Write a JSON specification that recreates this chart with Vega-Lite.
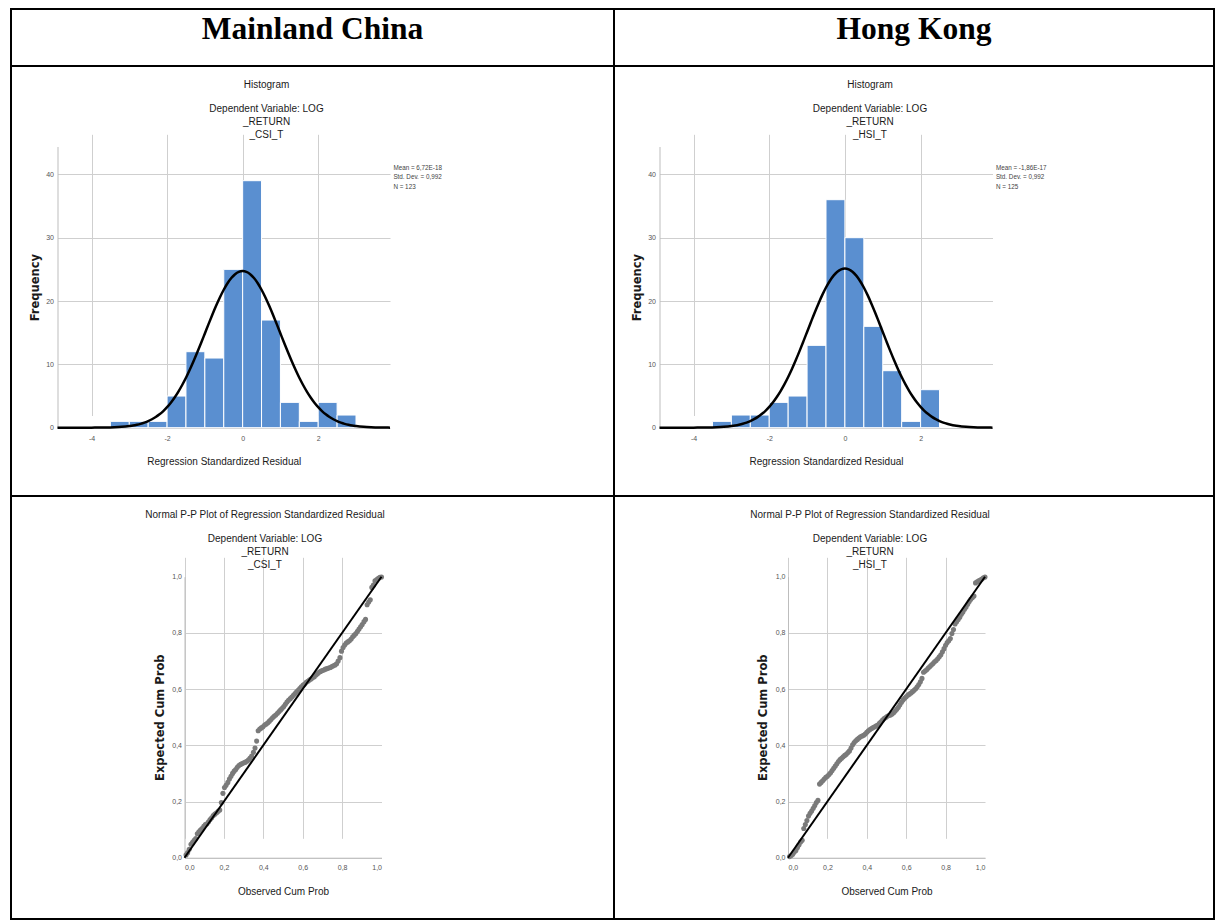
{
  "$schema": "https://vega.github.io/schema/vega-lite/v6.json",
  "background": "white",
  "padding": {"left": 10, "top": 8, "right": 0, "bottom": 0},
  "columns": 2,
  "spacing": 0,
  "bounds": "flush",
  "align": "each",
  "config": {
    "view": {"stroke": "black", "strokeWidth": 2},
    "font": "Liberation Sans, Arial, sans-serif"
  },
  "datasets": {
    "hist": [
      {"lo": -3.5, "hi": -3.0, "csi": 1, "hsi": 1},
      {"lo": -3.0, "hi": -2.5, "csi": 1, "hsi": 2},
      {"lo": -2.5, "hi": -2.0, "csi": 1, "hsi": 2},
      {"lo": -2.0, "hi": -1.5, "csi": 5, "hsi": 4},
      {"lo": -1.5, "hi": -1.0, "csi": 12, "hsi": 5},
      {"lo": -1.0, "hi": -0.5, "csi": 11, "hsi": 13},
      {"lo": -0.5, "hi": 0.0, "csi": 25, "hsi": 36},
      {"lo": 0.0, "hi": 0.5, "csi": 39, "hsi": 30},
      {"lo": 0.5, "hi": 1.0, "csi": 17, "hsi": 16},
      {"lo": 1.0, "hi": 1.5, "csi": 4, "hsi": 9},
      {"lo": 1.5, "hi": 2.0, "csi": 1, "hsi": 1},
      {"lo": 2.0, "hi": 2.5, "csi": 4, "hsi": 6},
      {"lo": 2.5, "hi": 3.0, "csi": 2, "hsi": 0}
    ],
    "curve": [
      {"z": -4.9, "csi": 0, "hsi": 0},
      {"z": -4.5, "csi": 0, "hsi": 0},
      {"z": -4.2, "csi": 0, "hsi": 0},
      {"z": -4.0, "csi": 0.01, "hsi": 0.01},
      {"z": -3.8, "csi": 0.02, "hsi": 0.02},
      {"z": -3.6, "csi": 0.03, "hsi": 0.03},
      {"z": -3.4, "csi": 0.07, "hsi": 0.07},
      {"z": -3.2, "csi": 0.14, "hsi": 0.14},
      {"z": -3.0, "csi": 0.26, "hsi": 0.26},
      {"z": -2.9, "csi": 0.34, "hsi": 0.35},
      {"z": -2.8, "csi": 0.46, "hsi": 0.47},
      {"z": -2.7, "csi": 0.61, "hsi": 0.62},
      {"z": -2.6, "csi": 0.80, "hsi": 0.81},
      {"z": -2.5, "csi": 1.03, "hsi": 1.05},
      {"z": -2.4, "csi": 1.33, "hsi": 1.35},
      {"z": -2.3, "csi": 1.68, "hsi": 1.71},
      {"z": -2.2, "csi": 2.11, "hsi": 2.15},
      {"z": -2.1, "csi": 2.63, "hsi": 2.67},
      {"z": -2.0, "csi": 3.24, "hsi": 3.29},
      {"z": -1.9, "csi": 3.95, "hsi": 4.01},
      {"z": -1.8, "csi": 4.77, "hsi": 4.85},
      {"z": -1.7, "csi": 5.70, "hsi": 5.79},
      {"z": -1.6, "csi": 6.74, "hsi": 6.84},
      {"z": -1.5, "csi": 7.88, "hsi": 8.01},
      {"z": -1.4, "csi": 9.14, "hsi": 9.28},
      {"z": -1.3, "csi": 10.48, "hsi": 10.65},
      {"z": -1.2, "csi": 11.90, "hsi": 12.09},
      {"z": -1.1, "csi": 13.37, "hsi": 13.59},
      {"z": -1.0, "csi": 14.88, "hsi": 15.12},
      {"z": -0.9, "csi": 16.39, "hsi": 16.65},
      {"z": -0.8, "csi": 17.87, "hsi": 18.16},
      {"z": -0.7, "csi": 19.28, "hsi": 19.59},
      {"z": -0.6, "csi": 20.60, "hsi": 20.93},
      {"z": -0.5, "csi": 21.78, "hsi": 22.14},
      {"z": -0.4, "csi": 22.80, "hsi": 23.17},
      {"z": -0.3, "csi": 23.63, "hsi": 24.01},
      {"z": -0.2, "csi": 24.24, "hsi": 24.63},
      {"z": -0.1, "csi": 24.61, "hsi": 25.01},
      {"z": 0.0, "csi": 24.73, "hsi": 25.14},
      {"z": 0.1, "csi": 24.61, "hsi": 25.01},
      {"z": 0.2, "csi": 24.24, "hsi": 24.63},
      {"z": 0.3, "csi": 23.63, "hsi": 24.01},
      {"z": 0.4, "csi": 22.80, "hsi": 23.17},
      {"z": 0.5, "csi": 21.78, "hsi": 22.14},
      {"z": 0.6, "csi": 20.60, "hsi": 20.93},
      {"z": 0.7, "csi": 19.28, "hsi": 19.59},
      {"z": 0.8, "csi": 17.87, "hsi": 18.16},
      {"z": 0.9, "csi": 16.39, "hsi": 16.65},
      {"z": 1.0, "csi": 14.88, "hsi": 15.12},
      {"z": 1.1, "csi": 13.37, "hsi": 13.59},
      {"z": 1.2, "csi": 11.90, "hsi": 12.09},
      {"z": 1.3, "csi": 10.48, "hsi": 10.65},
      {"z": 1.4, "csi": 9.14, "hsi": 9.28},
      {"z": 1.5, "csi": 7.88, "hsi": 8.01},
      {"z": 1.6, "csi": 6.74, "hsi": 6.84},
      {"z": 1.7, "csi": 5.70, "hsi": 5.79},
      {"z": 1.8, "csi": 4.77, "hsi": 4.85},
      {"z": 1.9, "csi": 3.95, "hsi": 4.01},
      {"z": 2.0, "csi": 3.24, "hsi": 3.29},
      {"z": 2.1, "csi": 2.63, "hsi": 2.67},
      {"z": 2.2, "csi": 2.11, "hsi": 2.15},
      {"z": 2.3, "csi": 1.68, "hsi": 1.71},
      {"z": 2.4, "csi": 1.33, "hsi": 1.35},
      {"z": 2.5, "csi": 1.03, "hsi": 1.05},
      {"z": 2.6, "csi": 0.80, "hsi": 0.81},
      {"z": 2.7, "csi": 0.61, "hsi": 0.62},
      {"z": 2.8, "csi": 0.46, "hsi": 0.47},
      {"z": 2.9, "csi": 0.34, "hsi": 0.35},
      {"z": 3.0, "csi": 0.26, "hsi": 0.26},
      {"z": 3.2, "csi": 0.14, "hsi": 0.14},
      {"z": 3.4, "csi": 0.07, "hsi": 0.07},
      {"z": 3.6, "csi": 0.03, "hsi": 0.03},
      {"z": 3.8, "csi": 0.02, "hsi": 0.02},
      {"z": 3.9, "csi": 0.01, "hsi": 0.01}
    ],
    "ppCSI": [
      {"o":0.008,"e":0.010},{"o":0.016,"e":0.018},{"o":0.024,"e":0.030},{"o":0.033,"e":0.048},{"o":0.041,"e":0.055},
      {"o":0.049,"e":0.062},{"o":0.057,"e":0.068},{"o":0.065,"e":0.085},{"o":0.073,"e":0.092},{"o":0.081,"e":0.098},
      {"o":0.089,"e":0.104},{"o":0.098,"e":0.112},{"o":0.106,"e":0.118},{"o":0.114,"e":0.121},{"o":0.122,"e":0.128},
      {"o":0.130,"e":0.136},{"o":0.138,"e":0.142},{"o":0.146,"e":0.150},{"o":0.154,"e":0.155},{"o":0.163,"e":0.160},
      {"o":0.171,"e":0.165},{"o":0.179,"e":0.170},{"o":0.187,"e":0.196},{"o":0.195,"e":0.229},{"o":0.203,"e":0.250},
      {"o":0.211,"e":0.258},{"o":0.220,"e":0.268},{"o":0.228,"e":0.280},{"o":0.236,"e":0.290},{"o":0.244,"e":0.300},
      {"o":0.252,"e":0.308},{"o":0.260,"e":0.314},{"o":0.268,"e":0.322},{"o":0.276,"e":0.328},{"o":0.285,"e":0.332},
      {"o":0.293,"e":0.335},{"o":0.301,"e":0.338},{"o":0.309,"e":0.340},{"o":0.317,"e":0.343},{"o":0.325,"e":0.348},
      {"o":0.333,"e":0.355},{"o":0.341,"e":0.362},{"o":0.350,"e":0.375},{"o":0.358,"e":0.390},{"o":0.366,"e":0.415},
      {"o":0.374,"e":0.452},{"o":0.382,"e":0.458},{"o":0.390,"e":0.462},{"o":0.398,"e":0.466},{"o":0.407,"e":0.472},
      {"o":0.415,"e":0.476},{"o":0.423,"e":0.480},{"o":0.431,"e":0.486},{"o":0.439,"e":0.492},{"o":0.447,"e":0.498},
      {"o":0.455,"e":0.503},{"o":0.463,"e":0.508},{"o":0.472,"e":0.514},{"o":0.480,"e":0.520},{"o":0.488,"e":0.526},
      {"o":0.496,"e":0.532},{"o":0.504,"e":0.538},{"o":0.512,"e":0.546},{"o":0.520,"e":0.554},{"o":0.528,"e":0.560},
      {"o":0.537,"e":0.566},{"o":0.545,"e":0.572},{"o":0.553,"e":0.578},{"o":0.561,"e":0.584},{"o":0.569,"e":0.590},
      {"o":0.577,"e":0.596},{"o":0.585,"e":0.602},{"o":0.593,"e":0.608},{"o":0.602,"e":0.614},{"o":0.610,"e":0.618},
      {"o":0.618,"e":0.624},{"o":0.626,"e":0.628},{"o":0.634,"e":0.632},{"o":0.642,"e":0.636},{"o":0.650,"e":0.640},
      {"o":0.659,"e":0.644},{"o":0.667,"e":0.650},{"o":0.675,"e":0.655},{"o":0.683,"e":0.660},{"o":0.691,"e":0.663},
      {"o":0.699,"e":0.666},{"o":0.707,"e":0.668},{"o":0.715,"e":0.671},{"o":0.724,"e":0.673},{"o":0.732,"e":0.675},
      {"o":0.740,"e":0.677},{"o":0.748,"e":0.680},{"o":0.756,"e":0.683},{"o":0.764,"e":0.686},{"o":0.772,"e":0.690},
      {"o":0.780,"e":0.700},{"o":0.789,"e":0.712},{"o":0.797,"e":0.735},{"o":0.805,"e":0.748},{"o":0.813,"e":0.757},
      {"o":0.821,"e":0.764},{"o":0.829,"e":0.768},{"o":0.837,"e":0.772},{"o":0.846,"e":0.778},{"o":0.854,"e":0.786},
      {"o":0.862,"e":0.792},{"o":0.870,"e":0.798},{"o":0.878,"e":0.806},{"o":0.886,"e":0.814},{"o":0.894,"e":0.822},
      {"o":0.902,"e":0.830},{"o":0.911,"e":0.840},{"o":0.919,"e":0.848},{"o":0.927,"e":0.900},{"o":0.935,"e":0.910},
      {"o":0.943,"e":0.918},{"o":0.951,"e":0.962},{"o":0.959,"e":0.970},{"o":0.967,"e":0.985},{"o":0.976,"e":0.990},
      {"o":0.984,"e":0.994},{"o":0.992,"e":0.998},{"o":1.000,"e":0.999}
    ],
    "ppHSI": [
      {"o":0.008,"e":0.004},{"o":0.016,"e":0.008},{"o":0.024,"e":0.012},{"o":0.032,"e":0.020},{"o":0.040,"e":0.026},
      {"o":0.048,"e":0.036},{"o":0.056,"e":0.046},{"o":0.064,"e":0.056},{"o":0.072,"e":0.062},{"o":0.080,"e":0.104},
      {"o":0.088,"e":0.118},{"o":0.096,"e":0.132},{"o":0.104,"e":0.148},{"o":0.112,"e":0.158},{"o":0.120,"e":0.166},
      {"o":0.128,"e":0.176},{"o":0.136,"e":0.186},{"o":0.144,"e":0.196},{"o":0.152,"e":0.204},{"o":0.160,"e":0.262},
      {"o":0.168,"e":0.268},{"o":0.176,"e":0.274},{"o":0.184,"e":0.280},{"o":0.192,"e":0.286},{"o":0.200,"e":0.290},
      {"o":0.208,"e":0.296},{"o":0.216,"e":0.302},{"o":0.224,"e":0.310},{"o":0.232,"e":0.318},{"o":0.240,"e":0.326},
      {"o":0.248,"e":0.334},{"o":0.256,"e":0.342},{"o":0.264,"e":0.349},{"o":0.272,"e":0.354},{"o":0.280,"e":0.359},
      {"o":0.288,"e":0.364},{"o":0.296,"e":0.368},{"o":0.304,"e":0.374},{"o":0.312,"e":0.380},{"o":0.320,"e":0.390},
      {"o":0.328,"e":0.402},{"o":0.336,"e":0.410},{"o":0.344,"e":0.416},{"o":0.352,"e":0.421},{"o":0.360,"e":0.426},
      {"o":0.368,"e":0.430},{"o":0.376,"e":0.433},{"o":0.384,"e":0.436},{"o":0.392,"e":0.440},{"o":0.400,"e":0.446},
      {"o":0.408,"e":0.452},{"o":0.416,"e":0.456},{"o":0.424,"e":0.460},{"o":0.432,"e":0.463},{"o":0.440,"e":0.466},
      {"o":0.448,"e":0.469},{"o":0.456,"e":0.472},{"o":0.464,"e":0.478},{"o":0.472,"e":0.484},{"o":0.480,"e":0.490},
      {"o":0.488,"e":0.495},{"o":0.496,"e":0.499},{"o":0.504,"e":0.503},{"o":0.512,"e":0.506},{"o":0.520,"e":0.508},
      {"o":0.528,"e":0.511},{"o":0.536,"e":0.516},{"o":0.544,"e":0.522},{"o":0.552,"e":0.528},{"o":0.560,"e":0.535},
      {"o":0.568,"e":0.544},{"o":0.576,"e":0.553},{"o":0.584,"e":0.561},{"o":0.592,"e":0.567},{"o":0.600,"e":0.573},
      {"o":0.608,"e":0.578},{"o":0.616,"e":0.582},{"o":0.624,"e":0.586},{"o":0.632,"e":0.591},{"o":0.640,"e":0.596},
      {"o":0.648,"e":0.601},{"o":0.656,"e":0.608},{"o":0.664,"e":0.616},{"o":0.672,"e":0.626},{"o":0.680,"e":0.638},
      {"o":0.688,"e":0.660},{"o":0.696,"e":0.664},{"o":0.704,"e":0.669},{"o":0.712,"e":0.675},{"o":0.720,"e":0.680},
      {"o":0.728,"e":0.686},{"o":0.736,"e":0.691},{"o":0.744,"e":0.697},{"o":0.752,"e":0.702},{"o":0.760,"e":0.708},
      {"o":0.768,"e":0.715},{"o":0.776,"e":0.722},{"o":0.784,"e":0.733},{"o":0.792,"e":0.744},{"o":0.800,"e":0.756},
      {"o":0.808,"e":0.766},{"o":0.816,"e":0.772},{"o":0.824,"e":0.780},{"o":0.832,"e":0.798},{"o":0.840,"e":0.812},
      {"o":0.848,"e":0.832},{"o":0.856,"e":0.840},{"o":0.864,"e":0.848},{"o":0.872,"e":0.856},{"o":0.880,"e":0.866},
      {"o":0.888,"e":0.874},{"o":0.896,"e":0.884},{"o":0.904,"e":0.892},{"o":0.912,"e":0.902},{"o":0.920,"e":0.912},
      {"o":0.928,"e":0.920},{"o":0.936,"e":0.926},{"o":0.944,"e":0.931},{"o":0.952,"e":0.978},{"o":0.960,"e":0.982},
      {"o":0.968,"e":0.985},{"o":0.976,"e":0.988},{"o":0.984,"e":0.992},{"o":0.992,"e":0.996},{"o":1.000,"e":0.999}
    ]
  },
  "concat": [
    {
      "width": 603, "height": 57,
      "data": {"values": [{"label": "Mainland China"}]},
      "mark": {"type": "text", "font": "Liberation Serif", "fontWeight": "bold", "fontSize": 31.5, "align": "center", "baseline": "alphabetic", "color": "black"},
      "encoding": {
        "x": {"datum": 0.5, "type": "quantitative", "scale": {"domain": [0, 1]}, "axis": null},
        "y": {"datum": 0.48, "type": "quantitative", "scale": {"domain": [0, 1]}, "axis": null},
        "text": {"field": "label"}
      }
    },
    {
      "width": 600, "height": 57,
      "data": {"values": [{"label": "Hong Kong"}]},
      "mark": {"type": "text", "font": "Liberation Serif", "fontWeight": "bold", "fontSize": 31.5, "align": "center", "baseline": "alphabetic", "color": "black"},
      "encoding": {
        "x": {"datum": 0.5, "type": "quantitative", "scale": {"domain": [0, 1]}, "axis": null},
        "y": {"datum": 0.48, "type": "quantitative", "scale": {"domain": [0, 1]}, "axis": null},
        "text": {"field": "label"}
      }
    },
    {
      "width": 603, "height": 430,
      "title": {"text": "Histogram", "subtitle": ["Dependent Variable: LOG", "_RETURN", "_CSI_T"], "frame": "group", "anchor": "middle", "dx": -46, "offset": 0, "dy": 74.5, "fontSize": 10, "fontWeight": "normal", "color": "#1a1a1a", "subtitleFontSize": 10, "subtitleColor": "#1a1a1a", "subtitlePadding": 14, "subtitleLineHeight": 13.4},
      "layer": [
        {
          "data": {"name": "hist"},
          "mark": {"type": "bar", "color": "#5a8fd0", "stroke": "white", "strokeWidth": 1},
          "encoding": {
            "x": {"field": "lo", "type": "quantitative", "scale": {"domain": [-4.9, 3.9], "range": [46.5, 379], "nice": false, "zero": false},
              "axis": {"orient": "bottom", "offset": -68.3, "values": [-4, -2, 0, 2], "labelExpr": "datum.value + ''", "grid": true, "gridColor": "#cfcfcf", "ticks": false, "domain": false, "labelFontSize": 7, "labelColor": "#555555", "labelPadding": 7, "title": "Regression Standardized Residual", "titleFontSize": 10, "titleFontWeight": "normal", "titleColor": "#1a1a1a", "titleY": 34, "titleBaseline": "middle"}},
            "x2": {"field": "hi"},
            "y": {"field": "csi", "type": "quantitative", "scale": {"domain": [0, 44.4], "range": [361.7, 80.5], "nice": false},
              "axis": {"orient": "left", "offset": -46.5, "values": [0, 10, 20, 30, 40], "grid": true, "gridColor": "#cfcfcf", "ticks": false, "domain": true, "domainColor": "#bdbdbd", "labelFontSize": 7, "labelColor": "#555555", "labelPadding": 4, "title": "Frequency", "titleFont": "DejaVu Sans", "titleFontWeight": "bold", "titleFontSize": 11.5, "titleColor": "#1a1a1a", "titleX": -22.5, "titleBaseline": "middle"}},
            "y2": {"datum": 0}
          }
        },
        {
          "data": {"name": "curve"},
          "mark": {"type": "line", "color": "black", "strokeWidth": 2.5, "interpolate": "monotone"},
          "encoding": {"x": {"field": "z", "type": "quantitative"}, "y": {"field": "csi", "type": "quantitative"}}
        },
        {
          "data": {"values": [{"s": "Mean = 6,72E-18\nStd. Dev. = 0,992\nN = 123"}]},
          "mark": {"type": "text", "align": "left", "baseline": "top", "lineBreak": "\n", "fontSize": 6.3, "lineHeight": 9.4, "color": "#444444"},
          "encoding": {"x": {"datum": 3.99, "type": "quantitative"}, "y": {"datum": 41.5, "type": "quantitative"}, "text": {"field": "s"}}
        }
      ]
    },
    {
      "width": 600, "height": 430,
      "title": {"text": "Histogram", "subtitle": ["Dependent Variable: LOG", "_RETURN", "_HSI_T"], "frame": "group", "anchor": "middle", "dx": -44, "offset": 0, "dy": 74.5, "fontSize": 10, "fontWeight": "normal", "color": "#1a1a1a", "subtitleFontSize": 10, "subtitleColor": "#1a1a1a", "subtitlePadding": 14, "subtitleLineHeight": 13.4},
      "layer": [
        {
          "data": {"name": "hist"},
          "transform": [{"filter": "datum.hsi > 0"}],
          "mark": {"type": "bar", "color": "#5a8fd0", "stroke": "white", "strokeWidth": 1},
          "encoding": {
            "x": {"field": "lo", "type": "quantitative", "scale": {"domain": [-4.9, 3.9], "range": [45.5, 378.5], "nice": false, "zero": false},
              "axis": {"orient": "bottom", "offset": -68.3, "values": [-4, -2, 0, 2], "labelExpr": "datum.value + ''", "grid": true, "gridColor": "#cfcfcf", "ticks": false, "domain": false, "labelFontSize": 7, "labelColor": "#555555", "labelPadding": 7, "title": "Regression Standardized Residual", "titleFontSize": 10, "titleFontWeight": "normal", "titleColor": "#1a1a1a", "titleY": 34, "titleBaseline": "middle"}},
            "x2": {"field": "hi"},
            "y": {"field": "hsi", "type": "quantitative", "scale": {"domain": [0, 44.4], "range": [361.7, 80.5], "nice": false},
              "axis": {"orient": "left", "offset": -45.5, "values": [0, 10, 20, 30, 40], "grid": true, "gridColor": "#cfcfcf", "ticks": false, "domain": true, "domainColor": "#bdbdbd", "labelFontSize": 7, "labelColor": "#555555", "labelPadding": 4, "title": "Frequency", "titleFont": "DejaVu Sans", "titleFontWeight": "bold", "titleFontSize": 11.5, "titleColor": "#1a1a1a", "titleX": -22.5, "titleBaseline": "middle"}},
            "y2": {"datum": 0}
          }
        },
        {
          "data": {"name": "curve"},
          "mark": {"type": "line", "color": "black", "strokeWidth": 2.5, "interpolate": "monotone"},
          "encoding": {"x": {"field": "z", "type": "quantitative"}, "y": {"field": "hsi", "type": "quantitative"}}
        },
        {
          "data": {"values": [{"s": "Mean = -1,86E-17\nStd. Dev. = 0,992\nN = 125"}]},
          "mark": {"type": "text", "align": "left", "baseline": "top", "lineBreak": "\n", "fontSize": 6.3, "lineHeight": 9.4, "color": "#444444"},
          "encoding": {"x": {"datum": 3.99, "type": "quantitative"}, "y": {"datum": 41.5, "type": "quantitative"}, "text": {"field": "s"}}
        }
      ]
    },
    {
      "width": 603, "height": 423,
      "title": {"text": "Normal P-P Plot of Regression Standardized Residual", "subtitle": ["Dependent Variable: LOG", "_RETURN", "_CSI_T"], "frame": "group", "anchor": "middle", "dx": -47.5, "offset": 0, "dy": 74.5, "fontSize": 10, "fontWeight": "normal", "color": "#1a1a1a", "subtitleFontSize": 10, "subtitleColor": "#1a1a1a", "subtitlePadding": 14, "subtitleLineHeight": 13.4},
      "layer": [
        {
          "data": {"name": "ppCSI"},
          "mark": {"type": "circle", "size": 26, "color": "#7a7a7a", "opacity": 1},
          "encoding": {
            "x": {"field": "o", "type": "quantitative", "scale": {"domain": [0, 1], "range": [173.5, 370.5], "nice": false},
              "axis": {"orient": "bottom", "offset": -61.3, "values": [0, 0.2, 0.4, 0.6, 0.8, 1], "labelExpr": "replace(format(datum.value, '.1f'), '.', ',')", "grid": true, "gridColor": "#cfcfcf", "gridOpacity": {"condition": {"test": "datum.value >= 1", "value": 0}, "value": 1}, "ticks": false, "domain": true, "domainColor": "#bdbdbd", "labelFontSize": 7, "labelColor": "#555555", "labelPadding": 6, "title": "Observed Cum Prob", "titleFontSize": 10, "titleFontWeight": "normal", "titleColor": "#1a1a1a", "titleY": 34, "titleBaseline": "middle"}},
            "y": {"field": "e", "type": "quantitative", "scale": {"domain": [0, 1], "range": [361.7, 80.7], "nice": false},
              "axis": {"orient": "left", "offset": -173.5, "values": [0, 0.2, 0.4, 0.6, 0.8, 1], "labelExpr": "replace(format(datum.value, '.1f'), '.', ',')", "grid": true, "gridColor": "#cfcfcf", "gridOpacity": {"condition": {"test": "datum.value >= 1", "value": 0}, "value": 1}, "ticks": false, "domain": true, "domainColor": "#bdbdbd", "labelFontSize": 7, "labelColor": "#555555", "labelPadding": 3, "title": "Expected Cum Prob", "titleFont": "DejaVu Sans", "titleFontWeight": "bold", "titleFontSize": 11.5, "titleColor": "#1a1a1a", "titleX": -24.5, "titleBaseline": "middle"}}
          }
        },
        {
          "data": {"values": [{}]},
          "mark": {"type": "rule", "color": "black", "strokeWidth": 2},
          "encoding": {"x": {"datum": 0, "type": "quantitative"}, "y": {"datum": 0, "type": "quantitative"}, "x2": {"datum": 1}, "y2": {"datum": 1}}
        }
      ]
    },
    {
      "width": 600, "height": 423,
      "title": {"text": "Normal P-P Plot of Regression Standardized Residual", "subtitle": ["Dependent Variable: LOG", "_RETURN", "_HSI_T"], "frame": "group", "anchor": "middle", "dx": -44, "offset": 0, "dy": 74.5, "fontSize": 10, "fontWeight": "normal", "color": "#1a1a1a", "subtitleFontSize": 10, "subtitleColor": "#1a1a1a", "subtitlePadding": 14, "subtitleLineHeight": 13.4},
      "layer": [
        {
          "data": {"name": "ppHSI"},
          "mark": {"type": "circle", "size": 26, "color": "#7a7a7a", "opacity": 1},
          "encoding": {
            "x": {"field": "o", "type": "quantitative", "scale": {"domain": [0, 1], "range": [174, 371], "nice": false},
              "axis": {"orient": "bottom", "offset": -61.3, "values": [0, 0.2, 0.4, 0.6, 0.8, 1], "labelExpr": "replace(format(datum.value, '.1f'), '.', ',')", "grid": true, "gridColor": "#cfcfcf", "gridOpacity": {"condition": {"test": "datum.value >= 1", "value": 0}, "value": 1}, "ticks": false, "domain": true, "domainColor": "#bdbdbd", "labelFontSize": 7, "labelColor": "#555555", "labelPadding": 6, "title": "Observed Cum Prob", "titleFontSize": 10, "titleFontWeight": "normal", "titleColor": "#1a1a1a", "titleY": 34, "titleBaseline": "middle"}},
            "y": {"field": "e", "type": "quantitative", "scale": {"domain": [0, 1], "range": [361.7, 80.7], "nice": false},
              "axis": {"orient": "left", "offset": -174, "values": [0, 0.2, 0.4, 0.6, 0.8, 1], "labelExpr": "replace(format(datum.value, '.1f'), '.', ',')", "grid": true, "gridColor": "#cfcfcf", "gridOpacity": {"condition": {"test": "datum.value >= 1", "value": 0}, "value": 1}, "ticks": false, "domain": true, "domainColor": "#bdbdbd", "labelFontSize": 7, "labelColor": "#555555", "labelPadding": 3, "title": "Expected Cum Prob", "titleFont": "DejaVu Sans", "titleFontWeight": "bold", "titleFontSize": 11.5, "titleColor": "#1a1a1a", "titleX": -24.5, "titleBaseline": "middle"}}
          }
        },
        {
          "data": {"values": [{}]},
          "mark": {"type": "rule", "color": "black", "strokeWidth": 2},
          "encoding": {"x": {"datum": 0, "type": "quantitative"}, "y": {"datum": 0, "type": "quantitative"}, "x2": {"datum": 1}, "y2": {"datum": 1}}
        }
      ]
    }
  ]
}
